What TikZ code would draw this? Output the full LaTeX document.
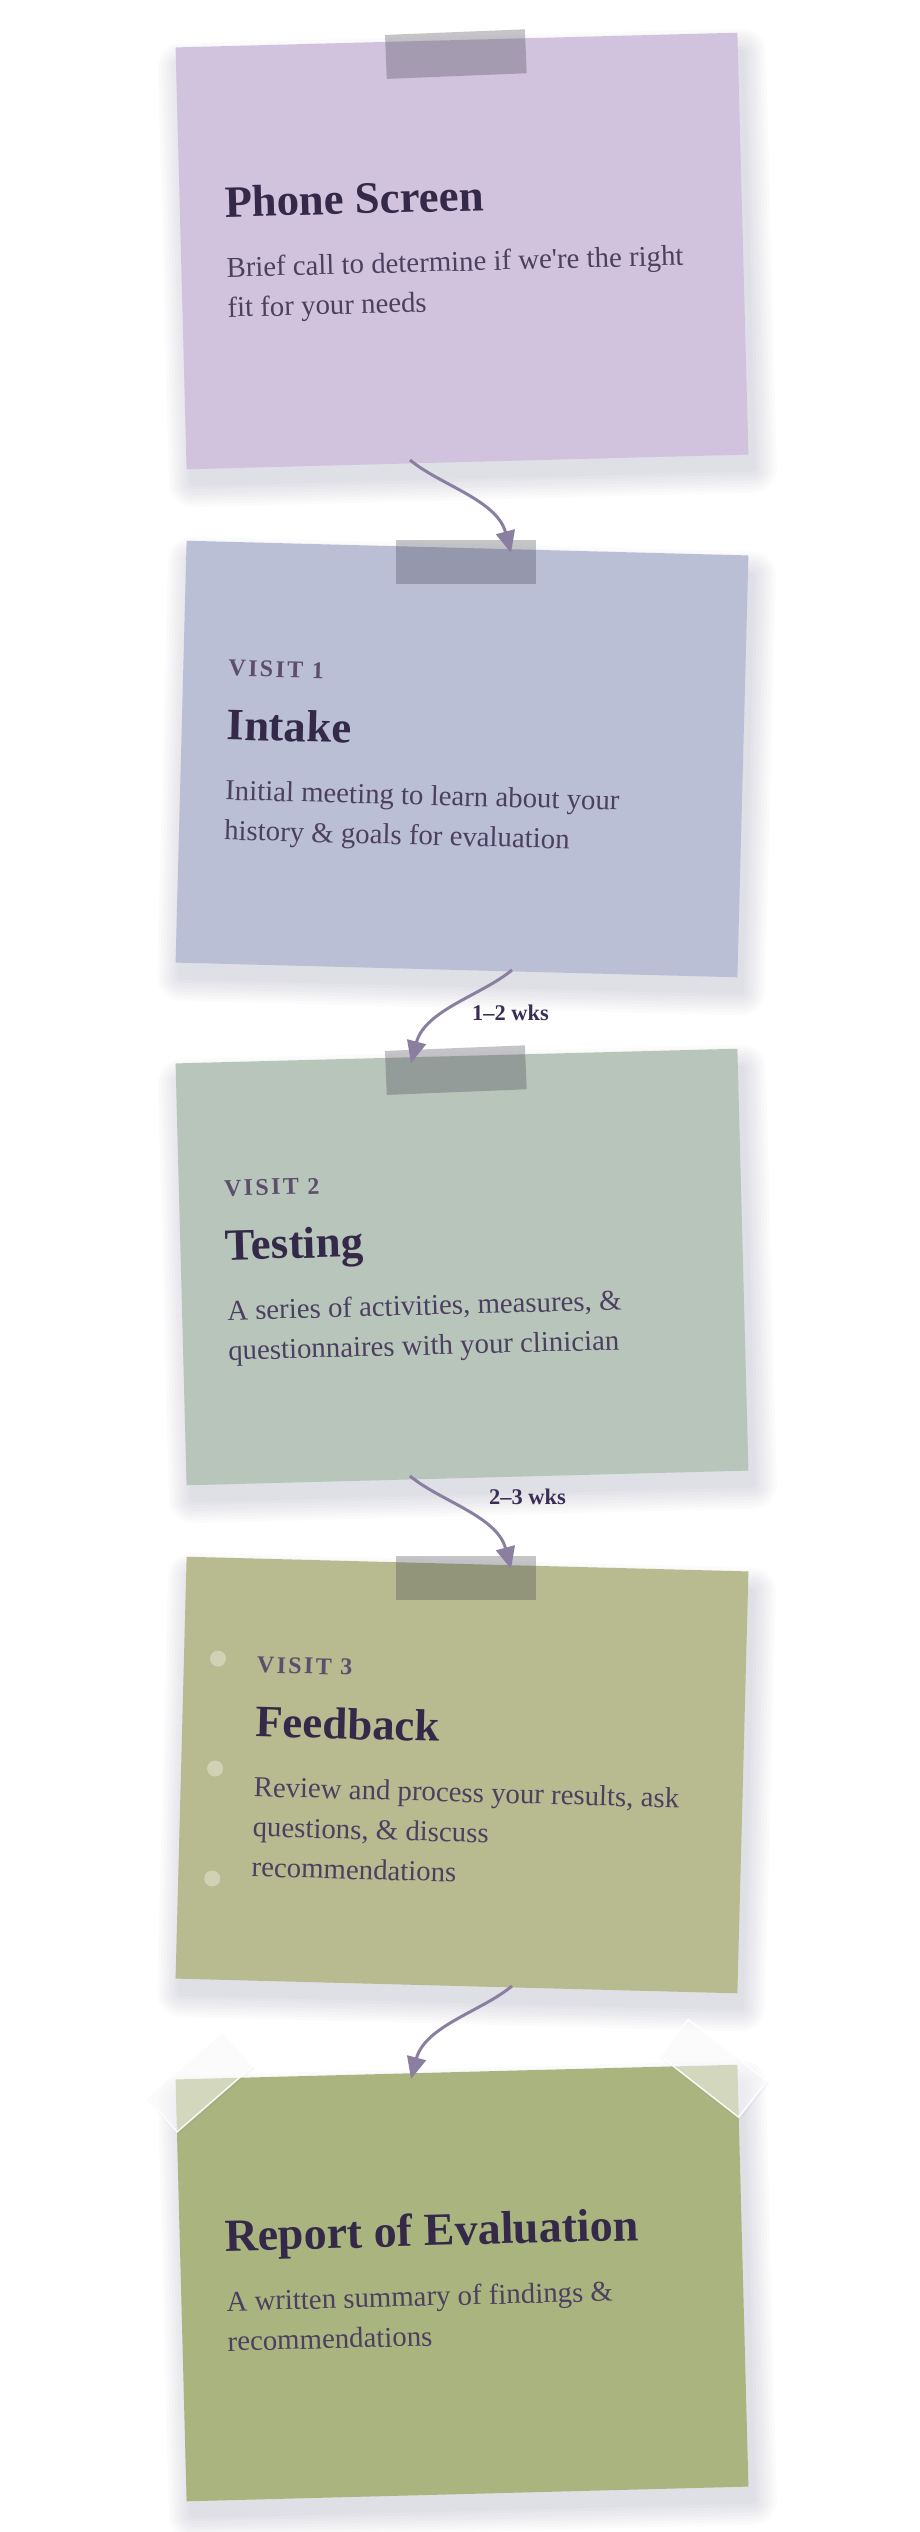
\documentclass[tikz,border=0pt]{standalone}
\usepackage{fontspec}
\setmainfont{Liberation Serif}
\newfontfamily\visitfont[LetterSpace=10]{Liberation Serif}
\usetikzlibrary{arrows.meta}
\definecolor{cardA}{HTML}{D1C3DD}
\definecolor{cardB}{HTML}{BBBFD6}
\definecolor{cardC}{HTML}{B7C5BA}
\definecolor{cardD}{HTML}{B8BA90}
\definecolor{cardE}{HTML}{A9B47F}
\definecolor{ttlcol}{HTML}{35294A}
\definecolor{dsccol}{HTML}{4C3F5F}
\definecolor{vstcol}{HTML}{5C4E6C}
\definecolor{wkscol}{HTML}{3A2E52}
\definecolor{arrowcol}{HTML}{8A7FA1}
\definecolor{tapegray}{HTML}{40404C}
\definecolor{shadowcol}{HTML}{463764}
\newcommand{\cardshadow}{%
  \foreach \r in {3,6,...,24}{%
    \fill[shadowcol, opacity=0.02, rounded corners=\r]
      (-281+6-\r,-211+20-\r) rectangle (281+4+\r,211+14+\r);}%
}
\tikzset{
  card/.style={rectangle, inner sep=0pt, minimum width=562pt, minimum height=422pt, transform shape},
  tapebox/.style={rectangle, inner sep=0pt, minimum width=140pt, minimum height=44pt, fill=tapegray, fill opacity=0.3, transform shape},
  ctape/.style={rectangle, inner sep=0pt, minimum width=100pt, minimum height=46pt, fill=white, fill opacity=0.5, draw=white, draw opacity=0.9, line width=1.5pt, transform shape},
  ctapeshadow/.style={rectangle, inner sep=0pt, minimum width=102pt, minimum height=48pt, fill=shadowcol, fill opacity=0.035, transform shape},
  hole/.style={circle, inner sep=0pt, minimum size=16pt, fill=white, fill opacity=0.35, transform shape},
  ttl/.style={anchor=base west, inner sep=0pt, text=ttlcol, font=\fontsize{44.8}{50}\selectfont\bfseries, transform shape},
  dsc/.style={anchor=base west, inner sep=0pt, text=dsccol, font=\fontsize{28.8}{40}\selectfont, transform shape},
  vst/.style={anchor=base west, inner sep=0pt, text=vstcol, font=\visitfont\fontsize{24}{28}\selectfont\bfseries, transform shape},
  wks/.style={anchor=base west, inner sep=0pt, text=wkscol, font=\fontsize{22.4}{26}\selectfont\bfseries},
  flow/.style={draw=arrowcol, line width=3pt, -{Triangle[length=22pt,width=19pt]}},
}
\begin{document}
\begin{tikzpicture}[x=1pt,y=-1pt]
\useasboundingbox (0,0) rectangle (920,2532);
\fill[white] (0,0) rectangle (920,2532);

% Card 1
\begin{scope}[shift={(462,251)}, rotate=1.5]
  \cardshadow
  \node[card, fill=cardA] (c1) at (0,0) {};
  \node[ttl] (c1t) at (-236,-40) {Phone Screen};
  \node[dsc] (c1d1) at (-236,20) {Brief call to determine if we\textquotesingle re the right};
  \node[dsc] (c1d2) at (-236,60) {fit for your needs};
  \node[tapebox, rotate=0.8] (t1) at (-1,-197) {};
\end{scope}

% Card 2
\begin{scope}[shift={(462,759)}, rotate=-1.5]
  \cardshadow
  \node[card, fill=cardB] (c2) at (0,0) {};
  \node[vst] (c2v) at (-236,-77) {VISIT 1};
  \node[ttl] (c2t) at (-236,-13) {Intake};
  \node[dsc] (c2d1) at (-236,47) {Initial meeting to learn about your};
  \node[dsc] (c2d2) at (-236,87) {history \& goals for evaluation};
  \node[tapebox, rotate=1.5] (t2) at (-1,-197) {};
\end{scope}

% Card 3
\begin{scope}[shift={(462,1267)}, rotate=1.5]
  \cardshadow
  \node[card, fill=cardC] (c3) at (0,0) {};
  \node[vst] (c3v) at (-236,-77) {VISIT 2};
  \node[ttl] (c3t) at (-236,-13) {Testing};
  \node[dsc] (c3d1) at (-236,47) {A series of activities, measures, \&};
  \node[dsc] (c3d2) at (-236,87) {questionnaires with your clinician};
  \node[tapebox, rotate=0.8] (t3) at (-1,-197) {};
\end{scope}

% Card 4
\begin{scope}[shift={(462,1775)}, rotate=-1.5]
  \cardshadow
  \node[card, fill=cardD] (c4) at (0,0) {};
  \node[hole] (h1) at (-247,-110) {};
  \node[hole] (h2) at (-247,0) {};
  \node[hole] (h3) at (-247,110) {};
  \node[vst] (c4v) at (-208,-97) {VISIT 3};
  \node[ttl] (c4t) at (-208,-33) {Feedback};
  \node[dsc] (c4d1) at (-208,27) {Review and process your results, ask};
  \node[dsc] (c4d2) at (-208,67) {questions, \& discuss};
  \node[dsc] (c4d3) at (-208,107) {recommendations};
  \node[tapebox, rotate=1.5] (t4) at (-1,-197) {};
\end{scope}

% Card 5
\begin{scope}[shift={(462,2283)}, rotate=1.5]
  \cardshadow
  \node[card, fill=cardE] (c5) at (0,0) {};
  \node[ttl, font=\fontsize{46}{52}\selectfont\bfseries] (c5t) at (-236,-38) {Report of Evaluation};
  \node[dsc] (c5d1) at (-236,22) {A written summary of findings \&};
  \node[dsc] (c5d2) at (-236,62) {recommendations};
  \node[ctapeshadow, rotate=39.5] (k1s) at (-256,-206) {};
  \node[ctapeshadow, rotate=-39.5] (k2s) at (258,-206) {};
  \node[ctape, rotate=39.5] (k1) at (-257,-208) {};
  \node[ctape, rotate=-39.5] (k2) at (257,-208) {};
\end{scope}

% connectors
\coordinate (a1s) at (410,460);
\coordinate (a1e) at (511,553);
\coordinate (a2s) at (512,970);
\coordinate (a2e) at (411,1063);
\coordinate (a3s) at (410,1476);
\coordinate (a3e) at (511,1569);
\coordinate (a4s) at (512,1986);
\coordinate (a4e) at (411,2079);
\draw[flow] (a1s) .. controls (440,485) and (497,500) .. (a1e);
\draw[flow] (a2s) .. controls (482,995) and (425,1010) .. (a2e);
\draw[flow] (a3s) .. controls (440,1501) and (497,1516) .. (a3e);
\draw[flow] (a4s) .. controls (482,2011) and (425,2026) .. (a4e);

\node[wks] (w1) at (472,1020) {1--2 wks};
\node[wks] (w2) at (489,1504) {2--3 wks};
\end{tikzpicture}
\end{document}
